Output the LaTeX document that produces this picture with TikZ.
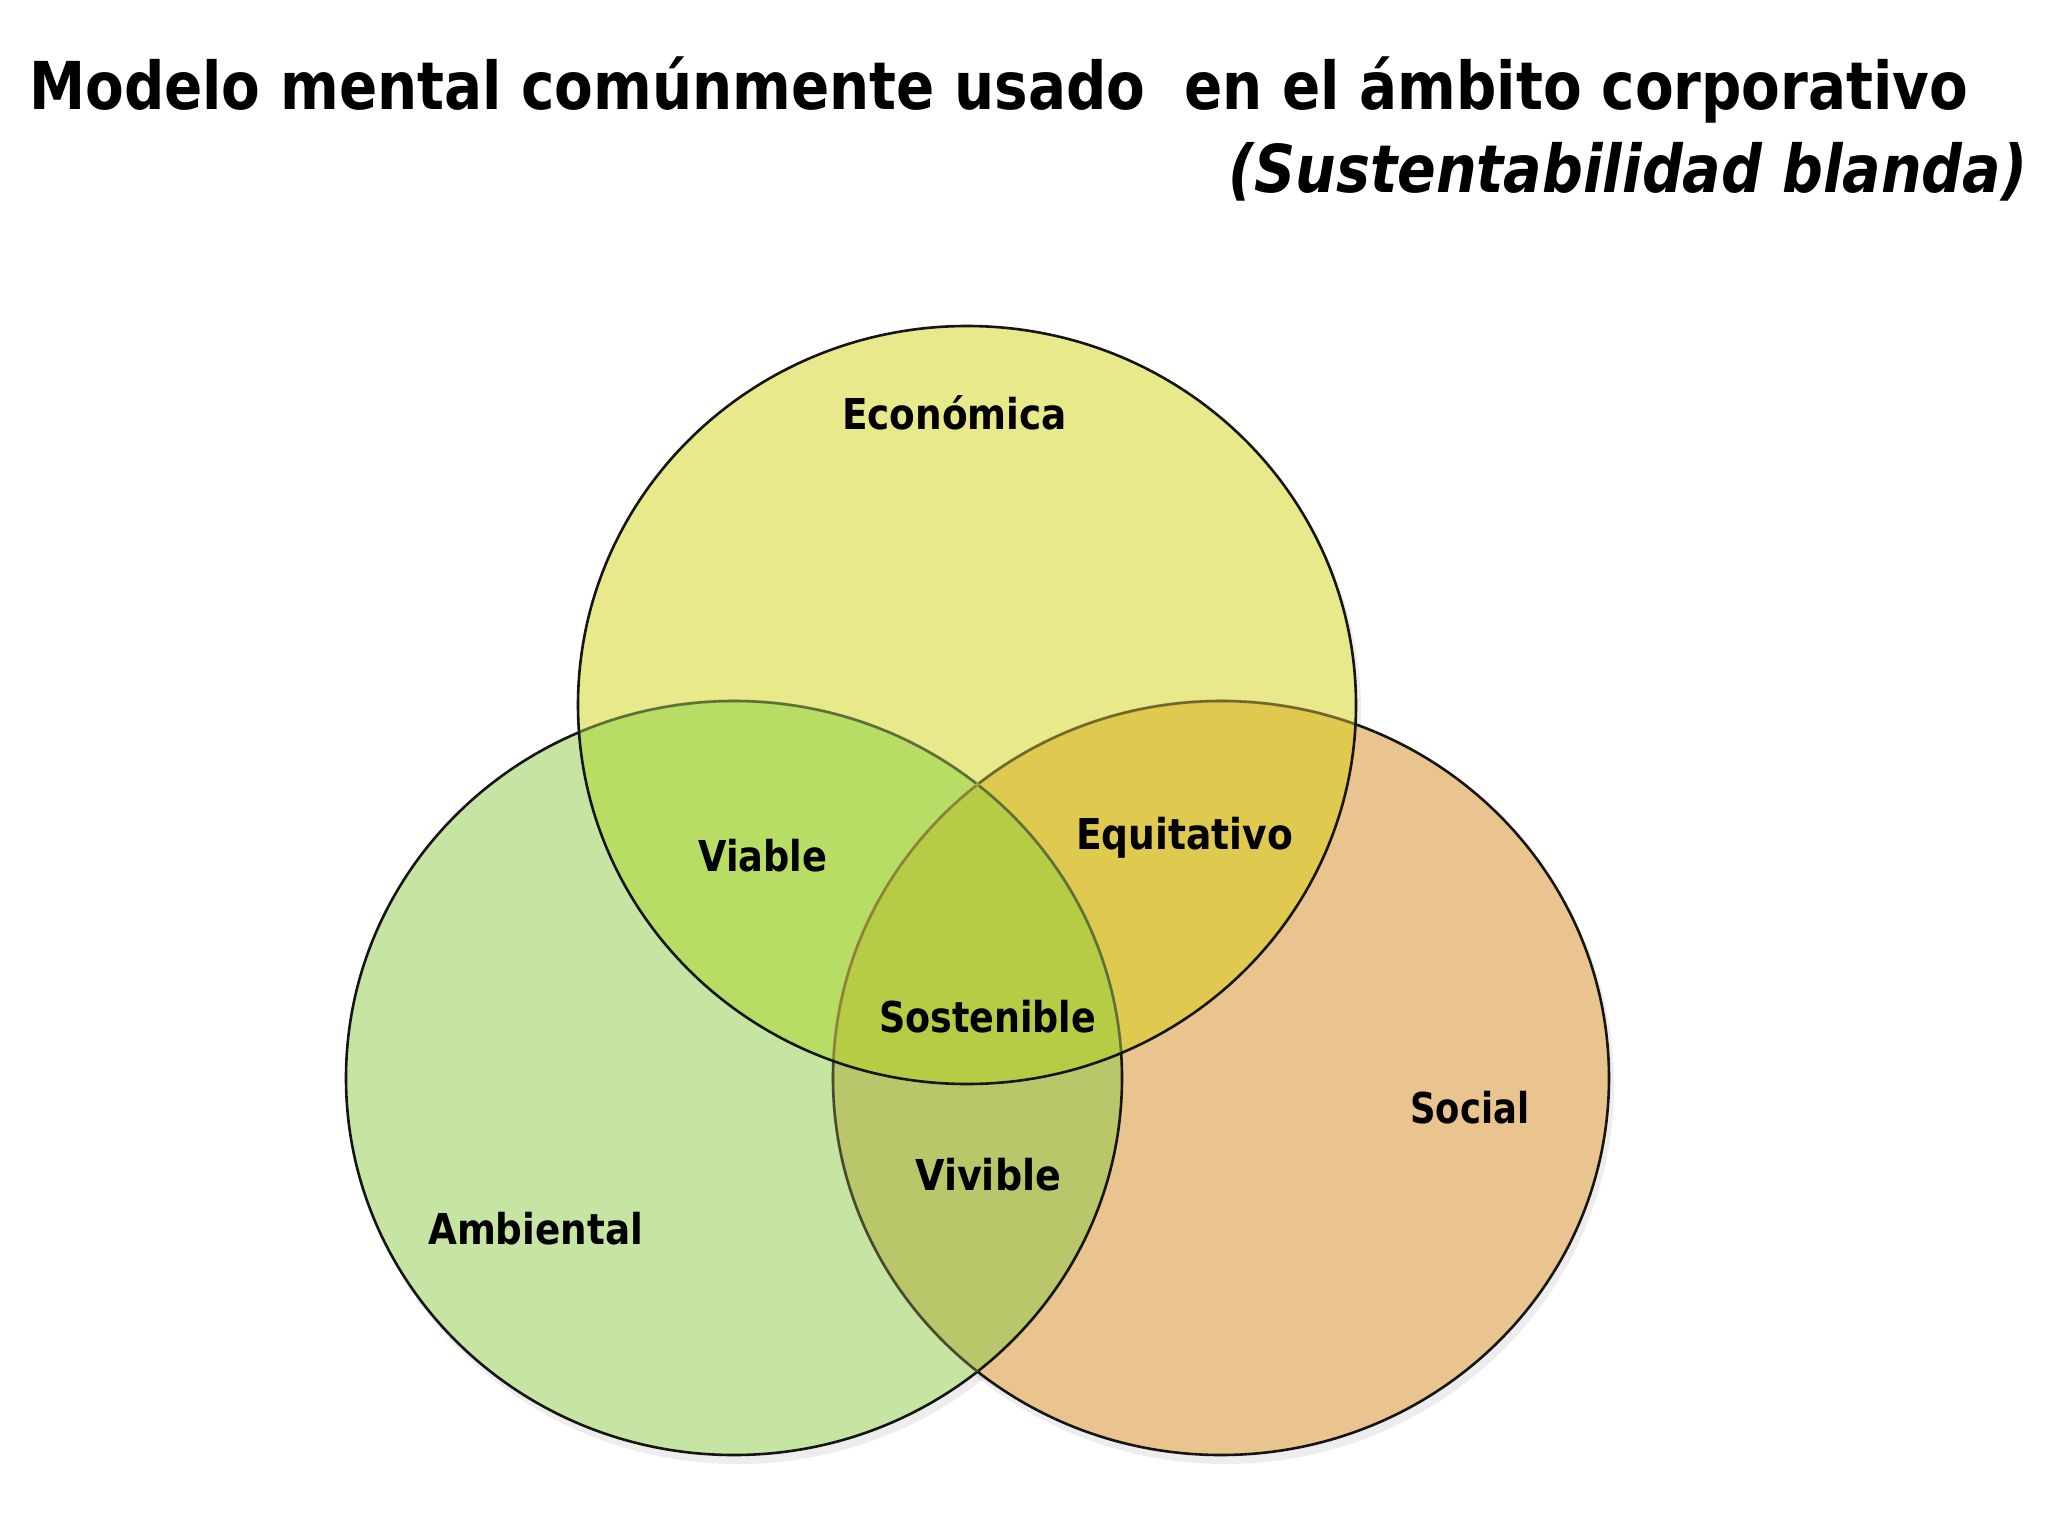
\documentclass[tikz,border=0pt]{standalone}
\usepackage{fontspec}
\setmainfont{DejaVu Sans}
\usepackage{graphicx}
\definecolor{cTop}{HTML}{E8E98A}
\definecolor{cLeft}{HTML}{C6E5A2}
\definecolor{cRight}{HTML}{E9C48E}
\definecolor{cViable}{HTML}{B8DD65}
\definecolor{cEquit}{HTML}{DFC94E}
\definecolor{cVivible}{HTML}{B9C76A}
\definecolor{cSost}{HTML}{B6CC44}
\definecolor{cLine}{HTML}{151515}
\begin{document}
\begin{tikzpicture}[x=1pt,y=-1pt,
  lbl/.style={anchor=base west, inner sep=0pt, font=\fontsize{42.5}{50}\selectfont\bfseries},
  ttl/.style={anchor=base west, inner sep=0pt, font=\fontsize{66}{76}\selectfont\bfseries},
  outline/.style={draw=cLine, line width=2.6pt},
  fadeline/.style={line width=3.2pt, opacity=0.45}]
\useasboundingbox[fill=white] (0,0) rectangle (2048,1536);
\def\Etop{(967,705) ellipse [x radius=389pt, y radius=379pt]}
\def\Eleft{(734,1078) ellipse [x radius=388pt, y radius=377pt]}
\def\Eright{(1221,1078) ellipse [x radius=388pt, y radius=377pt]}
\coordinate (ctop) at (967,705);
\coordinate (cleft) at (734,1078);
\coordinate (cright) at (1221,1078);
% soft shadows
\fill[black, opacity=0.07] (971,712) ellipse [x radius=390pt, y radius=381pt];
\fill[black, opacity=0.07] (738,1085) ellipse [x radius=389pt, y radius=379pt];
\fill[black, opacity=0.07] (1225,1085) ellipse [x radius=389pt, y radius=379pt];
% base fills
\fill[cRight] \Eright;
\fill[cLeft] \Eleft;
\fill[cTop] \Etop;
% overlaps
\begin{scope}\clip \Etop; \fill[cViable] \Eleft; \fill[cEquit] \Eright; \end{scope}
\begin{scope}\clip \Eleft; \fill[cVivible] \Eright; \end{scope}
\begin{scope}\clip \Etop; \clip \Eleft; \fill[cSost] \Eright; \end{scope}
% outlines
\draw[outline] \Eright;
\draw[outline] \Eleft;
\begin{scope}\clip \Eleft; \draw[fadeline, draw=cVivible, opacity=0.3] \Eright; \end{scope}
\begin{scope}\clip \Etop;
  \draw[fadeline, draw=cViable] \Eleft;
  \draw[fadeline, draw=cEquit] \Eright;
\end{scope}
\draw[outline] \Etop;
% labels
\node[lbl] (eco) at (842,429) {\resizebox{225pt}{\height}{Económica}};
\node[lbl] (via) at (698,871) {\resizebox{129pt}{\height}{Viable}};
\node[lbl] (equ) at (1076,849) {\resizebox{217pt}{\height}{Equitativo}};
\node[lbl] (sos) at (879,1032) {\resizebox{217pt}{\height}{Sostenible}};
\node[lbl] (soc) at (1410,1123) {\resizebox{119pt}{\height}{Social}};
\node[lbl] (viv) at (915,1190) {\resizebox{146pt}{\height}{Vivible}};
\node[lbl] (amb) at (428,1244) {\resizebox{215pt}{\height}{Ambiental}};
% title
\node[ttl] (t1) at (29,110) {\resizebox{1939pt}{\height}{Modelo mental comúnmente usado\ \ en el ámbito corporativo}};
\node[ttl, font=\fontsize{66}{76}\selectfont\bfseries\itshape] (t2) at (1228,192) {\resizebox{799pt}{\height}{(Sustentabilidad blanda)}};
\end{tikzpicture}
\end{document}
